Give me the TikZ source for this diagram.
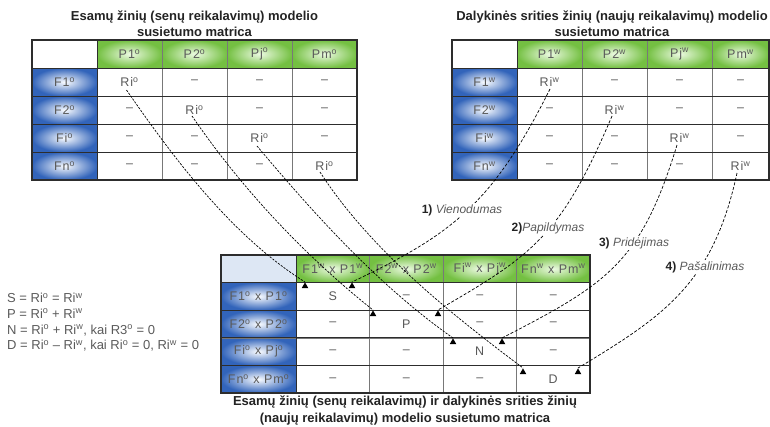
\documentclass[tikz,border=0pt]{standalone}
\usepackage{fontspec}
\setmainfont{Liberation Sans}
\usetikzlibrary{shapes.geometric}
\definecolor{cellblue}{RGB}{50,100,186}
\definecolor{cellgreen}{RGB}{116,192,66}
\definecolor{greenin}{RGB}{236,250,226}
\definecolor{bluein}{RGB}{250,252,255}
\definecolor{hdrblue}{RGB}{221,231,244}
\definecolor{txtgray}{RGB}{90,90,90}
\definecolor{gridgray}{RGB}{120,120,120}
\definecolor{griddark}{RGB}{45,45,45}
\definecolor{titlecol}{RGB}{35,35,35}
\newcommand{\SupO}{\textsuperscript{o}}
\newcommand{\SupW}{\textsuperscript{w}}
\begin{document}
\begin{tikzpicture}[x=1pt,y=-1pt,
  cellbase/.style={draw=gridgray, line width=0.6pt, inner sep=0pt, text=txtgray,
    font=\fontsize{12.5}{14}\selectfont\addfontfeature{LetterSpace=8}},
  bodycell/.style={cellbase, fill=white},
  greencell/.style={cellbase, shade, shading=radial, inner color=greenin, outer color=cellgreen},
  bluecell/.style={cellbase, shade, shading=radial, inner color=bluein, outer color=cellblue},
  cornercell/.style={cellbase, fill=white},
  hdrcell/.style={cellbase, fill=hdrblue},
  frame/.style={draw=griddark, line width=1.1pt},
  sepline/.style={draw=griddark, line width=0.9pt},
  titlestyle/.style={font=\bfseries\fontsize{13}{16}\selectfont, text=titlecol, align=center, inner sep=0pt},
  formula/.style={font=\fontsize{13}{15.7}\selectfont, text=txtgray, align=left, inner sep=0pt},
  lbl/.style={fill=white, inner sep=1pt, font=\fontsize{12}{14}\selectfont, text=titlecol},
  tipmark/.style={regular polygon, regular polygon sides=3, fill=black, inner sep=0pt,
    minimum size=7.5pt, anchor=corner 1},
  leftdash/.style={draw=black, line width=0.7pt, dash pattern=on 2.2pt off 1.3pt},
  rightdash/.style={draw=black, line width=0.7pt, dash pattern=on 3pt off 1.8pt}
]
\useasboundingbox (0,0) rectangle (770,426);
\clip (0,0) rectangle (770,426);

% ---------- left table ----------
\node[cornercell, minimum width=65pt, minimum height=28pt] (L00) at (64.5,54) {};
\foreach \mytxt/\cx [count=\i] in {P1/129.5,P2/194.5,Pj/259.5,Pm/324.5}
  \node[greencell, minimum width=65pt, minimum height=28pt] (L0\i) at (\cx,54) {\mytxt\SupO};
\foreach \mytxt [count=\j] in {F1,F2,Fi,Fn} {
  \node[bluecell, minimum width=65pt, minimum height=28pt] (L\j0) at (64.5,{54+28*\j}) {\mytxt\SupO};
  \foreach \cx [count=\i] in {129.5,194.5,259.5,324.5}
    \node[bodycell, minimum width=65pt, minimum height=28pt] (L\j\i) at (\cx,{54+28*\j})
      {\ifnum\i=\j Ri\SupO\else –\fi};
}
\draw[frame] (32,40) rectangle (357,180);
\foreach \yy in {68,96,124,152} \draw[sepline] (32,\yy) -- (357,\yy);
\draw[sepline] (97,40) -- (97,180);

% ---------- right table ----------
\node[cornercell, minimum width=65pt, minimum height=28pt] (R00) at (484.5,54) {};
\foreach \mytxt/\cx/\ww [count=\i] in {P1/549.5/65,P2/614.5/65,Pj/679.5/65,Pm/740.5/57}
  \node[greencell, minimum width=\ww pt, minimum height=28pt] (R0\i) at (\cx,54) {\mytxt\SupW};
\foreach \mytxt [count=\j] in {F1,F2,Fi,Fn} {
  \node[bluecell, minimum width=65pt, minimum height=28pt] (R\j0) at (484.5,{54+28*\j}) {\mytxt\SupW};
  \foreach \cx/\ww [count=\i] in {549.5/65,614.5/65,679.5/65,740.5/57}
    \node[bodycell, minimum width=\ww pt, minimum height=28pt] (R\j\i) at (\cx,{54+28*\j})
      {\ifnum\i=\j Ri\SupW\else –\fi};
}
\draw[frame] (452,40) rectangle (769,180);
\foreach \yy in {68,96,124,152} \draw[sepline] (452,\yy) -- (769,\yy);
\draw[sepline] (517,40) -- (517,180);

% ---------- bottom table ----------
\node[hdrcell, minimum width=75pt, minimum height=27.6pt] (B00) at (258.5,268.8) {};
\foreach \mytxt/\cx [count=\i] in {F1\SupW{} x P1\SupW/332.75,F2\SupW{} x P2\SupW/406.25,Fi\SupW{} x Pj\SupW/479.75,Fn\SupW{} x Pm\SupW/553.25}
  \node[greencell, minimum width=73.5pt, minimum height=27.6pt] (B0\i) at (\cx,268.8) {\mytxt};
\foreach \mytxt/\dg [count=\j] in {F1\SupO{} x P1\SupO/S,F2\SupO{} x P2\SupO/P,Fi\SupO{} x Pj\SupO/N,Fn\SupO{} x Pm\SupO/D} {
  \node[bluecell, minimum width=75pt, minimum height=27.6pt] (B\j0) at (258.5,{268.8+27.6*\j}) {\mytxt};
  \foreach \cx [count=\i] in {332.75,406.25,479.75,553.25}
    \node[bodycell, minimum width=73.5pt, minimum height=27.6pt] (B\j\i) at (\cx,{268.8+27.6*\j})
      {\ifnum\i=\j \dg\else –\fi};
}
\draw[frame] (221,255) rectangle (590,393);
\foreach \yy in {282.6,310.2,337.8,365.4} \draw[sepline] (221,\yy) -- (590,\yy);
\draw[sepline] (296,255) -- (296,393);

% ---------- titles ----------
\node[titlestyle] (tL) at (194.5,24) {Esamų žinių (senų reikalavimų) modelio\\susietumo matrica};
\node[titlestyle] (tR) at (612,24) {Dalykinės srities žinių (naujų reikalavimų) modelio\\susietumo matrica};
\node[titlestyle, font=\bfseries\fontsize{13}{17}\selectfont] (tB) at (405,410.5)
  {Esamų žinių (senų reikalavimų) ir dalykinės srities žinių\\(naujų reikalavimų) modelio susietumo matrica};

% ---------- formulas ----------
\node[formula, anchor=north west] (form) at (7,293)
  {S = Ri\SupO{} = Ri\SupW\\
   P = Ri\SupO{} + Ri\SupW\\
   N = Ri\SupO{} + Ri\SupW, kai R3\SupO{} = 0\\
   D = Ri\SupO{} – Ri\SupW, kai Ri\SupO{} = 0, Ri\SupW{} = 0};

% ---------- arrow tips ----------
\node[tipmark] (t1) at (305,282) {};
\node[tipmark] (t2) at (373,310) {};
\node[tipmark] (t3) at (453,338) {};
\node[tipmark] (t4) at (523,368) {};
\node[tipmark] (ta) at (352,282) {};
\node[tipmark] (tb) at (438,310) {};
\node[tipmark] (tc) at (502,338) {};
\node[tipmark] (td) at (578,368) {};

% ---------- start points ----------
\coordinate (s1) at ([shift={(-3,8)}]L11.center);
\coordinate (s2) at ([shift={(-2.5,6)}]L22.center);
\coordinate (s3) at ([shift={(-2.5,8)}]L33.center);
\coordinate (s4) at ([shift={(-4.5,6)}]L44.center);
\coordinate (sa) at ([shift={(0.5,7)}]R11.center);
\coordinate (sb) at ([shift={(-2.5,6)}]R22.center);
\coordinate (sc) at ([shift={(-2.5,7)}]R33.center);
\coordinate (sd) at ([shift={(-3.5,7)}]R44.center);

% ---------- connectors ----------
\draw[leftdash] (s1) .. controls (175,160) and (232,236) .. (t1.corner 1);
\draw[leftdash] (s2) .. controls (242,189) and (305,256) .. (t2.corner 1);
\draw[leftdash] (s3) .. controls (315,215) and (379,286) .. (t3.corner 1);
\draw[leftdash] (s4) .. controls (369,248) and (447,311) .. (t4.corner 1);
\draw[rightdash] (sa) .. controls (491.5,205.7) and (451,234.6) .. (ta.corner 1);
\draw[rightdash] (sb) .. controls (561,236) and (533,255) .. (tb.corner 1);
\draw[rightdash] (sc) .. controls (641,262) and (609,283) .. (tc.corner 1);
\draw[rightdash] (sd) .. controls (713,284) and (664,316) .. (td.corner 1);

% ---------- labels ----------
\node[lbl] (lab1) at (462,210) {\textbf{1)} \textcolor{txtgray}{\textit{Vienodumas}}};
\node[lbl] (lab2) at (548,228) {\textbf{2)}\textcolor{txtgray}{\textit{Papildymas}}};
\node[lbl] (lab3) at (634,243) {\textbf{3)} \textcolor{txtgray}{\textit{Pridėjimas}}};
\node[lbl] (lab4) at (705,267) {\textbf{4)} \textcolor{txtgray}{\textit{Pašalinimas}}};
\end{tikzpicture}
\end{document}
